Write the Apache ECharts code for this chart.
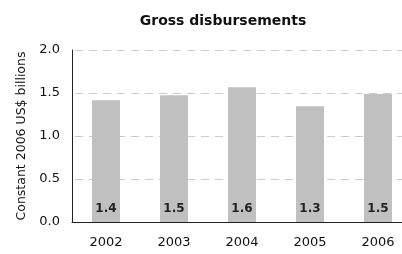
<!DOCTYPE html>
<html><head><meta charset="utf-8">
<script src="https://cdn.jsdelivr.net/npm/echarts@6/dist/echarts.min.js"></script>
<style>html,body{margin:0;padding:0;background:#fff}#c{width:402px;height:254px}</style>
</head><body><div id="c"></div>
<script>
const categories = ['2002','2003','2004','2005','2006'];
const values = [1.415, 1.473, 1.566, 1.346, 1.488];
const labels = ['1.4','1.5','1.6','1.3','1.5'];
const yTicks = [0, 0.5, 1.0, 1.5, 2.0];

const chart = echarts.init(document.getElementById('c'), null, {renderer:'canvas', width:402, height:254});
const font = 'DejaVu Sans';
chart.setOption({
  animation:false,
  title:{text:'Gross disbursements', left:218, top:9, textAlign:'center',
    textStyle:{fontFamily:font, fontSize:14, fontWeight:'bold', color:'#111'}},
  grid:{left:72, width:340, top:50, height:172, containLabel:false, outerBoundsMode:'none'},
  xAxis:{type:'category', data:categories,
    axisLine:{lineStyle:{color:'#222', width:1}},
    axisTick:{show:false},
    axisLabel:{fontFamily:font, fontSize:13, color:'#111', margin:14},
    splitLine:{show:false}},
  yAxis:{type:'value', min:0, max:2, interval:0.5,
    name:'Constant 2006 US$ billions', nameLocation:'middle', nameGap:40,
    nameTextStyle:{fontFamily:font, fontSize:12.5, color:'#111'},
    axisLine:{show:true, lineStyle:{color:'#222', width:1}},
    axisTick:{show:false},
    axisLabel:{fontFamily:font, fontSize:13, color:'#111', margin:12,
      formatter:v=>v.toFixed(1)},
    splitLine:{show:true, lineStyle:{color:'#cccccc', type:[8,6], dashOffset:-3, width:1}}},
  series:[{type:'bar', data:values, barWidth:28,
    itemStyle:{color:'#c0c0c0'},
    label:{show:true, position:'insideBottom', distance:7,
      formatter:p=>labels[p.dataIndex],
      fontFamily:font, fontSize:12, fontWeight:'bold', color:'#222'}}]
});
</script></body></html>
